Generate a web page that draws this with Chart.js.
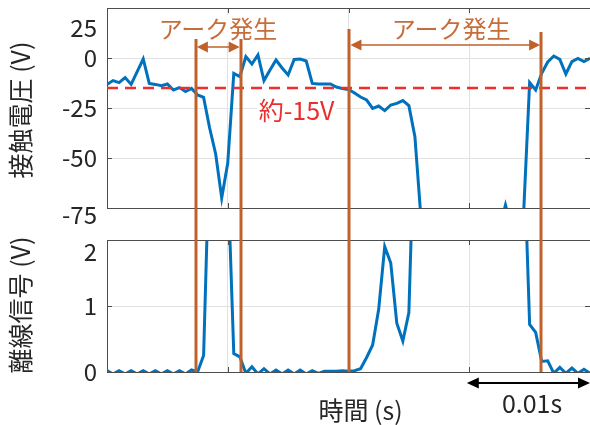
<!DOCTYPE html>
<html>
<head>
<meta charset="utf-8">
<script src="https://cdn.jsdelivr.net/npm/chart.js@4.4.1/dist/chart.umd.min.js"></script>
<style>
  html, body { margin: 0; padding: 0; background: #fff; overflow: hidden; }
  #wrap { position: relative; width: 590px; height: 425px; }
  #top { position: absolute; left: 0; top: 0; }
  #bottom { position: absolute; left: 0; top: 224px; }
</style>
</head>
<body>
<div id="wrap">
  <canvas id="top" width="590" height="224"></canvas>
  <canvas id="bottom" width="590" height="201"></canvas>
</div>
<script>
// time in ms (sampled every 0.5 ms)
var timeMs = [0, 0.5, 1, 1.5, 2, 2.5, 3, 3.5, 4, 4.5, 5, 5.5, 6, 6.5, 7, 7.5, 8, 8.5, 9, 9.5,
  10, 10.5, 11, 11.5, 12, 12.5, 13, 13.5, 14, 14.5, 15, 15.5, 16, 16.5, 17, 17.5, 18, 18.5, 19, 19.5,
  20, 20.5, 21, 21.5, 22, 22.5, 23, 23.5, 24, 24.5, 25, 25.5, 26, 26.5, 27, 27.5, 28, 28.5, 29, 29.5,
  30, 30.5, 31, 31.5, 32, 32.5, 33, 33.5, 34, 34.5, 35, 35.5, 36, 36.5, 37, 37.5, 38, 38.5, 39, 39.5, 40];

// 接触電圧 (V) — values below -75 run off the axis
var contactVoltage = [
  -13.2, -11.3, -12.3, -9.8, -13.2, -6.8, -0.5, -12.7, -13.2, -13.8,
  -13, -16, -14.8, -16.8, -15.2, -18.5, -19.7, -35, -48, -70,
  -52.5, -7.7, -9.3, 0.7, -3, 1.5, -11.3, -6, -1, -5,
  -8.5, -0.7, -0.5, -1.5, -12.7, -13, -13, -13, -14.5, -15.3,
  -15.7, -17.5, -19.5, -21, -25.2, -24, -26.3, -23.5, -22.7, -21.3,
  -23.8, -39.3, -80, -90, -90, -90, -90, -90, -90, -90,
  -90, -90, -90, -90, -90, -85, -73.5, -85, -90, -78,
  -12.3, -16, -7.7, -2, 1, -0.7, -8, -1.8, -0.2, -1.8,
  -0.2
];

// 離線信号 (V) — values above 2 run off the axis
var lossSignal = [
  0.02, -0.03, 0.02, -0.03, 0.02, -0.03, 0.02, -0.03, 0.02, -0.03,
  0.02, -0.03, 0.02, -0.03, 0.03, 0, 0.25, 3.5, 4, 4,
  3, 0.28, 0.23, -0.02, 0.08, -0.03, 0.05, -0.03, 0.03, -0.03,
  0.03, -0.03, 0.03, -0.03, 0.02, -0.02, 0.01, 0.01, 0.01, 0.02,
  0.01, 0.02, 0.05, 0.22, 0.41, 0.95, 1.9, 1.65, 0.74, 0.47,
  0.9, 4, 4, 4, 4, 4, 4, 4, 4, 4,
  4, 4, 4, 4, 4, 4, 4, 4, 4, 3.5,
  0.72, 0.6, 0.16, 0.17, -0.02, 0.07, -0.02, 0.06, -0.02, 0.04,
  -0.02
];

var voltTicks = [25, 0, -25, -50, -75];
var signalTicks = [2, 1, 0];
var arcEdgesMs = [7.36, 11.07, 20.08, 35.95];   // start/end of each arc
var arcLabel = 'アーク発生';
var refVoltage = -15;
var refLabel = '約-15V';
var scaleBarMs = [29.8, 40];
var scaleBarLabel = '0.01s';

var FONT = '"Noto Sans CJK JP", "Noto Sans", sans-serif';
var AXIS = '#4d4d4d', GRID = '#e2e2e2', TEXT = '#262626';
var BLUE = '#0072BD', ORANGE = '#C0612B', ORANGE_TXT = '#C76D39', RED = '#EB2E2E';

Chart.defaults.font.family = FONT;

function points(vals) {
  return timeMs.map(function (t, i) { return { x: t, y: vals[i] }; });
}

function text(ctx, s, x, y, size, color, align) {
  ctx.save();
  ctx.font = size + 'px ' + FONT;
  ctx.fillStyle = color;
  ctx.textAlign = align || 'center';
  ctx.textBaseline = 'middle';
  ctx.fillText(s, x, y);
  ctx.restore();
}

function whiteBox(ctx, s, x, y, size) {
  ctx.save();
  ctx.font = size + 'px ' + FONT;
  var w = ctx.measureText(s).width;
  ctx.fillStyle = '#fff';
  ctx.fillRect(x - w / 2 - 2, y - size / 2 - 2, w + 4, size + 4);
  ctx.restore();
}

function vtext(ctx, s, x, y, size) {
  ctx.save();
  ctx.translate(x, y);
  ctx.rotate(-Math.PI / 2);
  text(ctx, s, 0, 0, size, TEXT);
  ctx.restore();
}

function arrow(ctx, x1, x2, y, head, half, color, lw) {
  ctx.save();
  ctx.strokeStyle = color;
  ctx.fillStyle = color;
  ctx.lineWidth = lw;
  ctx.beginPath();
  ctx.moveTo(x1 + head / 2, y);
  ctx.lineTo(x2 - head / 2, y);
  ctx.stroke();
  [[x1, 1], [x2, -1]].forEach(function (p) {
    ctx.beginPath();
    ctx.moveTo(p[0], y);
    ctx.lineTo(p[0] + p[1] * head, y - half);
    ctx.lineTo(p[0] + p[1] * head, y + half);
    ctx.closePath();
    ctx.fill();
  });
  ctx.restore();
}

// box top line + MATLAB style inner ticks
function frame(chart) {
  var ctx = chart.ctx, a = chart.chartArea, x = chart.scales.x, y = chart.scales.y;
  ctx.save();
  ctx.strokeStyle = AXIS;
  ctx.lineWidth = 1;
  ctx.beginPath();
  ctx.moveTo(a.left, Math.round(a.top) + 0.5);
  ctx.lineTo(a.right, Math.round(a.top) + 0.5);
  x.ticks.forEach(function (t) {
    if (t.value <= x.min || t.value >= x.max) return;
    var px = Math.round(x.getPixelForValue(t.value)) + 0.5;
    ctx.moveTo(px, a.top); ctx.lineTo(px, a.top + 5);
    ctx.moveTo(px, a.bottom); ctx.lineTo(px, a.bottom - 5);
  });
  y.ticks.forEach(function (t) {
    if (t.value <= y.min || t.value >= y.max) return;
    var py = Math.round(y.getPixelForValue(t.value)) + 0.5;
    ctx.moveTo(a.left, py); ctx.lineTo(a.left + 5, py);
    ctx.moveTo(a.right, py); ctx.lineTo(a.right - 5, py);
  });
  ctx.stroke();
  ctx.restore();
}

function orangeLine(ctx, px, y1, y2) {
  ctx.save();
  ctx.strokeStyle = ORANGE;
  ctx.lineWidth = 3;
  ctx.beginPath();
  ctx.moveTo(px, y1);
  ctx.lineTo(px, y2);
  ctx.stroke();
  ctx.restore();
}

function baseScales(yMin, yMax, step, hidden) {
  return {
    x: {
      type: 'linear', min: 0, max: 40,
      ticks: { display: false, stepSize: 10 },
      grid: { color: GRID, drawTicks: false },
      border: { color: AXIS },
      afterFit: function (s) { s.height = 0; s.paddingLeft = 0; s.paddingRight = 0; }
    },
    y: {
      min: yMin, max: yMax,
      ticks: {
        stepSize: step, padding: 10, color: TEXT, font: { size: 24 },
        callback: function (v) { return hidden.indexOf(v) >= 0 ? '' : String(v); }
      },
      grid: { color: GRID, drawTicks: false },
      border: { color: AXIS },
      afterFit: function (s) { s.width = 107; s.paddingTop = 0; s.paddingBottom = 0; }
    }
  };
}

var topDecor = {
  id: 'topDecor',
  beforeDatasetsDraw: function (chart) {
    var ctx = chart.ctx, x = chart.scales.x, y = chart.scales.y;
    whiteBox(ctx, arcLabel, x.getPixelForValue(9.2), y.getPixelForValue(14.5), 24);
    whiteBox(ctx, arcLabel, x.getPixelForValue(28.5), y.getPixelForValue(14.5), 24);
    whiteBox(ctx, refLabel, x.getPixelForValue(15.7), y.getPixelForValue(-26), 25);
  },
  afterDraw: function (chart) {
    var ctx = chart.ctx, a = chart.chartArea, x = chart.scales.x, y = chart.scales.y;
    frame(chart);
    // shifted end labels
    text(ctx, String(voltTicks[0]), a.left - 10, y.getPixelForValue(15), 24, TEXT, 'right');
    text(ctx, String(voltTicks[4]), a.left - 10, y.getPixelForValue(-78.5), 24, TEXT, 'right');
    vtext(ctx, '接触電圧 (V)', 20, 110, 25);

    // reference line
    var ry = y.getPixelForValue(refVoltage);
    ctx.save();
    ctx.strokeStyle = RED;
    ctx.lineWidth = 2.5;
    ctx.setLineDash([11, 7]);
    ctx.beginPath();
    ctx.moveTo(a.left, ry);
    ctx.lineTo(a.right, ry);
    ctx.stroke();
    ctx.restore();
    text(ctx, refLabel, x.getPixelForValue(15.7), y.getPixelForValue(-26), 25, RED);

    // arc markers
    var tops = [9.5, 9.5, 14.5, 13];
    arcEdgesMs.forEach(function (t, i) {
      orangeLine(ctx, Math.round(x.getPixelForValue(t)), y.getPixelForValue(tops[i]), chart.height);
    });
    arrow(ctx, x.getPixelForValue(arcEdgesMs[0]) + 1, x.getPixelForValue(arcEdgesMs[1]) - 1,
      y.getPixelForValue(5.5), 11, 5.5, ORANGE, 1.5);
    arrow(ctx, x.getPixelForValue(arcEdgesMs[2]) + 1, x.getPixelForValue(arcEdgesMs[3]) - 1,
      y.getPixelForValue(6.5), 11, 5.5, ORANGE, 1.5);
    text(ctx, arcLabel, x.getPixelForValue(9.2), y.getPixelForValue(14.5), 24, ORANGE_TXT);
    text(ctx, arcLabel, x.getPixelForValue(28.5), y.getPixelForValue(14.5), 24, ORANGE_TXT);
  }
};

var bottomDecor = {
  id: 'bottomDecor',
  afterDraw: function (chart) {
    var ctx = chart.ctx, a = chart.chartArea, x = chart.scales.x, y = chart.scales.y;
    frame(chart);
    text(ctx, String(signalTicks[0]), a.left - 10, y.getPixelForValue(1.82), 24, TEXT, 'right');
    vtext(ctx, '離線信号 (V)', 20, 81, 25);

    arcEdgesMs.forEach(function (t) {
      orangeLine(ctx, Math.round(x.getPixelForValue(t)), 0, a.bottom);
    });

    // scale bar
    arrow(ctx, x.getPixelForValue(scaleBarMs[0]), x.getPixelForValue(scaleBarMs[1]),
      a.bottom + 11, 12, 5.5, '#000', 2);
    text(ctx, scaleBarLabel, x.getPixelForValue(35.2), a.bottom + 31, 25, TEXT);
    text(ctx, '時間 (s)', x.getPixelForValue(21), a.bottom + 38, 25, TEXT);
  }
};

new Chart(document.getElementById('top'), {
  type: 'line',
  data: {
    datasets: [{
      data: points(contactVoltage),
      borderColor: BLUE, borderWidth: 3, pointRadius: 0, tension: 0, clip: 0
    }]
  },
  options: {
    responsive: false, animation: false,
    layout: { padding: { top: 8, bottom: 16, left: 0, right: 0 } },
    plugins: { legend: { display: false }, tooltip: { enabled: false } },
    scales: baseScales(-75, 25, 25, [25, -75])
  },
  plugins: [topDecor]
});

new Chart(document.getElementById('bottom'), {
  type: 'line',
  data: {
    datasets: [{
      data: points(lossSignal),
      borderColor: BLUE, borderWidth: 3, pointRadius: 0, tension: 0, clip: 0
    }]
  },
  options: {
    responsive: false, animation: false,
    layout: { padding: { top: 16, bottom: 53, left: 0, right: 0 } },
    plugins: { legend: { display: false }, tooltip: { enabled: false } },
    scales: baseScales(0, 2, 1, [2])
  },
  plugins: [bottomDecor]
});
</script>
</body>
</html>
